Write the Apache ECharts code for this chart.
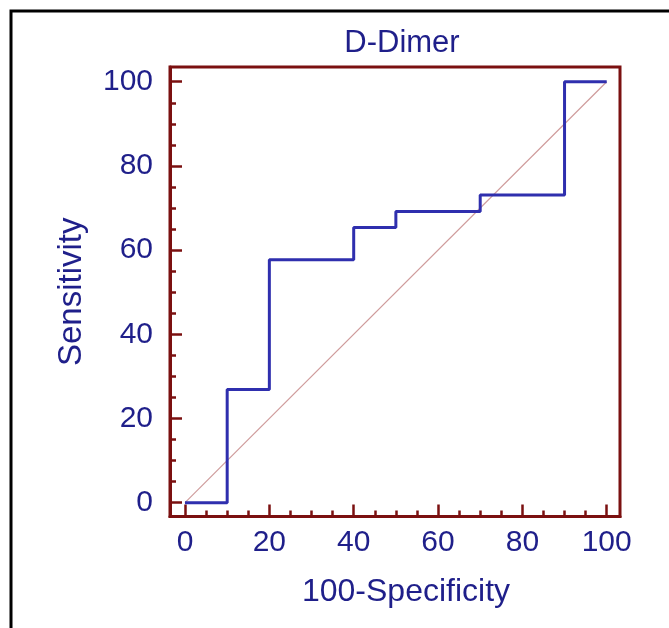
<!DOCTYPE html>
<html>
<head>
<meta charset="utf-8">
<script src="https://cdn.jsdelivr.net/npm/echarts@6/dist/echarts.min.js"></script>
<style>
html,body{margin:0;padding:0;background:#fff;}
#chart{width:669px;height:628px;}
</style>
</head>
<body>
<div id="chart"></div>
<script>
// ROC curve data (100-Specificity, Sensitivity)
const rocX = [0, 10, 20, 40, 50, 70, 90, 100];
const rocY = [0, 26.9, 57.7, 65.4, 69.2, 73.1, 100, 100];
const diagX = [0, 100];
const diagY = [0, 100];
const majorTicks = [0, 20, 40, 60, 80, 100];
const minorTicks = [5, 10, 15, 25, 30, 35, 45, 50, 55, 65, 70, 75, 85, 90, 95];
const titleText = 'D-Dimer';
const xName = '100-Specificity';
const yName = 'Sensitivity';

const FRAME = '#7b1010';
const NAVY = '#1f1f8a';
const BLUE = '#2f2fae';
const FONT = 'Liberation Sans, Arial, sans-serif';

const chart = echarts.init(document.getElementById('chart'), null, {renderer: 'canvas'});

function mkAxis(isX, major, extra) {
  const base = {
    type: 'value',
    min: isX ? -3.56 : -3.28,
    max: isX ? 103.15 : 103.5,
    splitLine: {show: false},
    axisLine: {show: major, onZero: false, lineStyle: {color: FRAME, width: 3}},
    axisTick: {
      show: true, inside: true, length: major ? 12 : 6,
      customValues: major ? majorTicks : minorTicks,
      lineStyle: {color: FRAME, width: 2.5}
    },
    axisLabel: {
      show: major,
      customValues: majorTicks,
      color: NAVY, fontSize: 30, fontFamily: FONT,
      margin: isX ? 11 : 17
    },
    position: isX ? 'bottom' : 'left'
  };
  return Object.assign(base, extra || {});
}

const option = {
  backgroundColor: '#fff',
  animation: false,
  title: {
    text: titleText,
    left: 397, top: 23, textAlign: 'center',
    textStyle: {color: NAVY, fontSize: 31, fontWeight: 'normal', fontFamily: FONT}
  },
  grid: {
    left: 170, top: 67, width: 450, height: 449.5,
    show: true, borderColor: FRAME, borderWidth: 3, backgroundColor: 'transparent'
  },
  xAxis: [
    mkAxis(true, true, {
      name: xName, nameLocation: 'middle', nameGap: 60,
      nameTextStyle: {color: NAVY, fontSize: 32, fontFamily: FONT, padding: [0, 0, 0, 22]}
    }),
    mkAxis(true, false)
  ],
  yAxis: [
    mkAxis(false, true, {
      name: yName, nameLocation: 'middle', nameGap: 82,
      nameTextStyle: {color: NAVY, fontSize: 33, fontFamily: FONT}
    }),
    mkAxis(false, false)
  ],
  series: [
    {
      type: 'line',
      xAxisIndex: 0, yAxisIndex: 0,
      data: diagX.map((x, i) => [x, diagY[i]]),
      symbol: 'none',
      lineStyle: {color: '#cf9c9c', width: 1.2},
      z: 2
    },
    {
      type: 'line',
      xAxisIndex: 0, yAxisIndex: 0,
      step: 'end',
      data: rocX.map((x, i) => [x, rocY[i]]),
      symbol: 'none',
      lineStyle: {color: BLUE, width: 3},
      z: 3
    }
  ],
  graphic: [
    {
      type: 'rect',
      shape: {x: 11, y: 11, width: 800, height: 800},
      style: {fill: 'none', stroke: '#000', lineWidth: 3},
      silent: true
    }
  ]
};
chart.setOption(option);
</script>
</body>
</html>
